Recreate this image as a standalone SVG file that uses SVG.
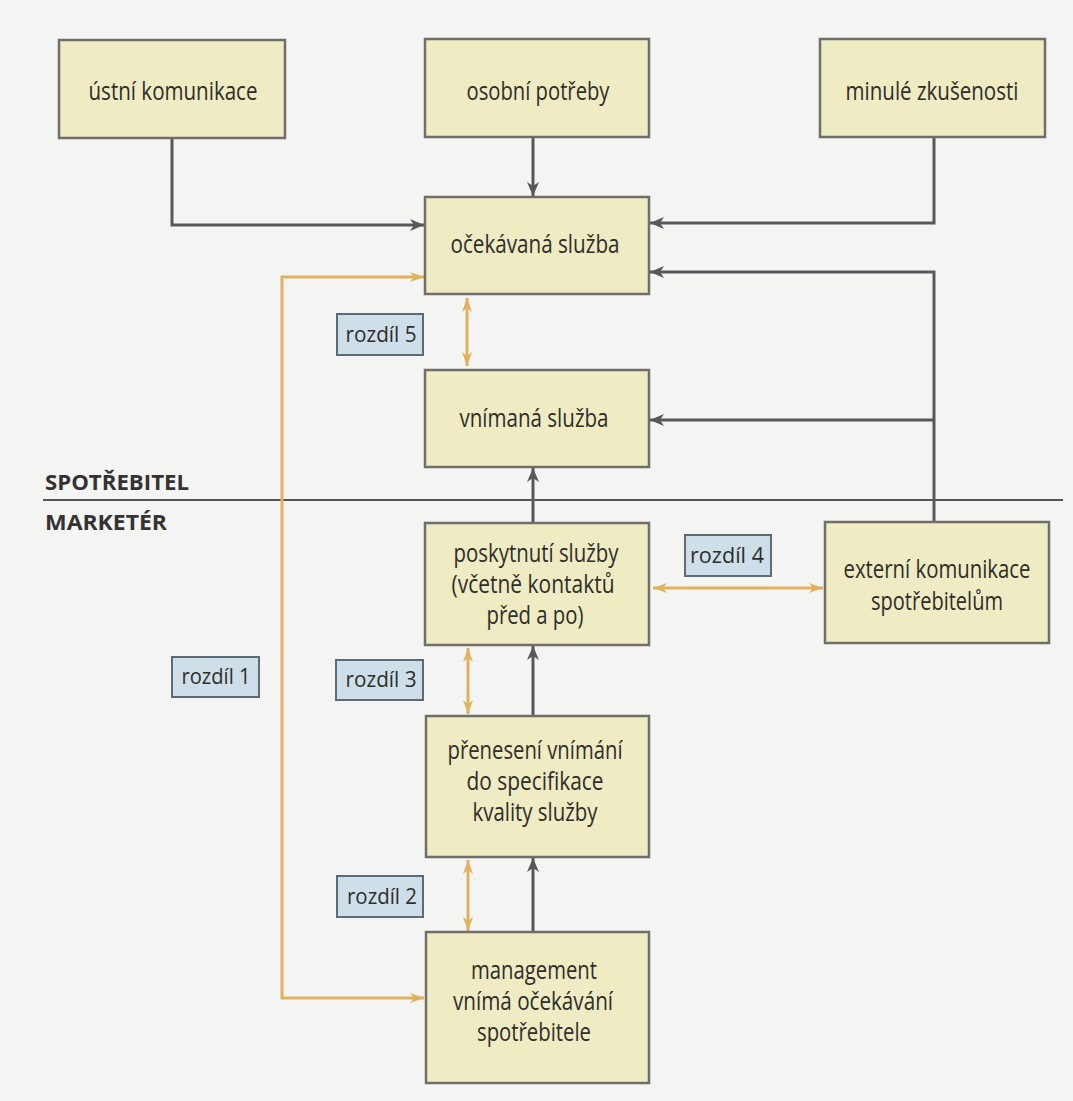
<svg xmlns="http://www.w3.org/2000/svg" width="1073" height="1101" viewBox="0 0 1073 1101">
<defs>
<style>
.box{fill:#efebc3;stroke:#6e6e6a;stroke-width:2.5}
.lab{fill:#cfdfe9;stroke:#5f6b74;stroke-width:2}
.t{font-family:"Open Sans","Noto Sans","DejaVu Sans",sans-serif;font-size:25px;fill:#2e2e2a;text-anchor:middle}
.tl{font-family:"Open Sans","Noto Sans","DejaVu Sans",sans-serif;font-size:21px;fill:#2e2e2a;text-anchor:middle}
.hd{font-family:"Open Sans","Noto Sans","DejaVu Sans",sans-serif;font-size:21px;font-weight:bold;fill:#333}
.g{fill:none;stroke:#58585c;stroke-width:3}
.o{fill:none;stroke:#e0b25e;stroke-width:3}
</style>
<marker id="ag" markerUnits="userSpaceOnUse" markerWidth="16" markerHeight="14" refX="14" refY="7" orient="auto-start-reverse" viewBox="0 0 16 14">
<path d="M0,1 L14,7 L0,13 L4,7 Z" fill="#58585c"/>
</marker>
<marker id="ao" markerUnits="userSpaceOnUse" markerWidth="16" markerHeight="12" refX="14" refY="6" orient="auto-start-reverse" viewBox="0 0 16 12">
<path d="M0,1 L14,6 L0,11 L4,6 Z" fill="#e0b25e"/>
</marker>
</defs>
<rect x="0" y="0" width="1073" height="1101" fill="#f4f4f3"/>

<g id="divider">
<line x1="43" y1="500" x2="1063" y2="500" stroke="#55555a" stroke-width="2"/>
<text class="hd" x="45" y="490" textLength="144" lengthAdjust="spacingAndGlyphs">SPOTŘEBITEL</text>
<text class="hd" x="45" y="530" textLength="122" lengthAdjust="spacingAndGlyphs">MARKETÉR</text>
</g>

<g id="connectors">
<path class="g" d="M172,138 V225 H424" marker-end="url(#ag)"/>
<path class="g" d="M533,137 V196" marker-end="url(#ag)"/>
<path class="g" d="M934,137 V223 H650" marker-end="url(#ag)"/>
<path class="g" d="M934,522 V272 H650" marker-end="url(#ag)"/>
<path class="g" d="M934,420 H650" marker-end="url(#ag)"/>
<path class="g" d="M533,523 V468" marker-end="url(#ag)"/>
<path class="g" d="M533,716 V646" marker-end="url(#ag)"/>
<path class="g" d="M533,932 V858" marker-end="url(#ag)"/>
<path class="o" d="M424,998 H282 V277 H424" marker-start="url(#ao)" marker-end="url(#ao)"/>
<path class="o" d="M467,298 V366" marker-start="url(#ao)" marker-end="url(#ao)"/>
<path class="o" d="M468,648 V714" marker-start="url(#ao)" marker-end="url(#ao)"/>
<path class="o" d="M468,860 V931" marker-start="url(#ao)" marker-end="url(#ao)"/>
<path class="o" d="M653,588 H823" marker-start="url(#ao)" marker-end="url(#ao)"/>
</g>

<g id="ustni">
<rect class="box" x="59" y="40" width="226" height="98"/>
<text class="t" x="173" y="100" textLength="169" lengthAdjust="spacingAndGlyphs">ústní komunikace</text>
</g>
<g id="osobni">
<rect class="box" x="425" y="39" width="224" height="98"/>
<text class="t" x="538" y="100" textLength="143" lengthAdjust="spacingAndGlyphs">osobní potřeby</text>
</g>
<g id="minule">
<rect class="box" x="820" y="39" width="225" height="98"/>
<text class="t" x="932" y="100" textLength="173" lengthAdjust="spacingAndGlyphs">minulé zkušenosti</text>
</g>
<g id="ocekavana">
<rect class="box" x="425" y="197" width="224" height="97"/>
<text class="t" x="535" y="253" textLength="169" lengthAdjust="spacingAndGlyphs">očekávaná služba</text>
</g>
<g id="vnimana">
<rect class="box" x="425" y="370" width="224" height="97"/>
<text class="t" x="534" y="427" textLength="149" lengthAdjust="spacingAndGlyphs">vnímaná služba</text>
</g>
<g id="poskytnuti">
<rect class="box" x="425" y="523" width="224" height="122"/>
<text class="t" x="536" y="562" textLength="165" lengthAdjust="spacingAndGlyphs">poskytnutí služby</text>
<text class="t" x="533" y="593" textLength="163" lengthAdjust="spacingAndGlyphs">(včetně kontaktů</text>
<text class="t" x="535" y="624" textLength="97" lengthAdjust="spacingAndGlyphs">před a po)</text>
</g>
<g id="externi">
<rect class="box" x="825" y="522" width="224" height="121"/>
<text class="t" x="937" y="578" textLength="187" lengthAdjust="spacingAndGlyphs">externí komunikace</text>
<text class="t" x="937" y="610" textLength="132" lengthAdjust="spacingAndGlyphs">spotřebitelům</text>
</g>
<g id="preneseni">
<rect class="box" x="426" y="716" width="223" height="141"/>
<text class="t" x="535" y="759" textLength="175" lengthAdjust="spacingAndGlyphs">přenesení vnímání</text>
<text class="t" x="535" y="790" textLength="137" lengthAdjust="spacingAndGlyphs">do specifikace</text>
<text class="t" x="535" y="821" textLength="125" lengthAdjust="spacingAndGlyphs">kvality služby</text>
</g>
<g id="management">
<rect class="box" x="426" y="932" width="223" height="151"/>
<text class="t" x="534" y="979" textLength="126" lengthAdjust="spacingAndGlyphs">management</text>
<text class="t" x="533" y="1010" textLength="160" lengthAdjust="spacingAndGlyphs">vnímá očekávání</text>
<text class="t" x="534" y="1041" textLength="114" lengthAdjust="spacingAndGlyphs">spotřebitele</text>
</g>

<g id="rozdil1">
<rect class="lab" x="172" y="657" width="87" height="40"/>
<text class="tl" x="216" y="684" textLength="69" lengthAdjust="spacingAndGlyphs">rozdíl 1</text>
</g>
<g id="rozdil2">
<rect class="lab" x="337" y="876" width="86" height="41"/>
<text class="tl" x="382" y="904" textLength="70" lengthAdjust="spacingAndGlyphs">rozdíl 2</text>
</g>
<g id="rozdil3">
<rect class="lab" x="336" y="660" width="87" height="40"/>
<text class="tl" x="381" y="687" textLength="71" lengthAdjust="spacingAndGlyphs">rozdíl 3</text>
</g>
<g id="rozdil4">
<rect class="lab" x="685" y="535" width="86" height="41"/>
<text class="tl" x="727" y="563" textLength="74" lengthAdjust="spacingAndGlyphs">rozdíl 4</text>
</g>
<g id="rozdil5">
<rect class="lab" x="337" y="314" width="86" height="41"/>
<text class="tl" x="381" y="342" textLength="71" lengthAdjust="spacingAndGlyphs">rozdíl 5</text>
</g>
</svg>
